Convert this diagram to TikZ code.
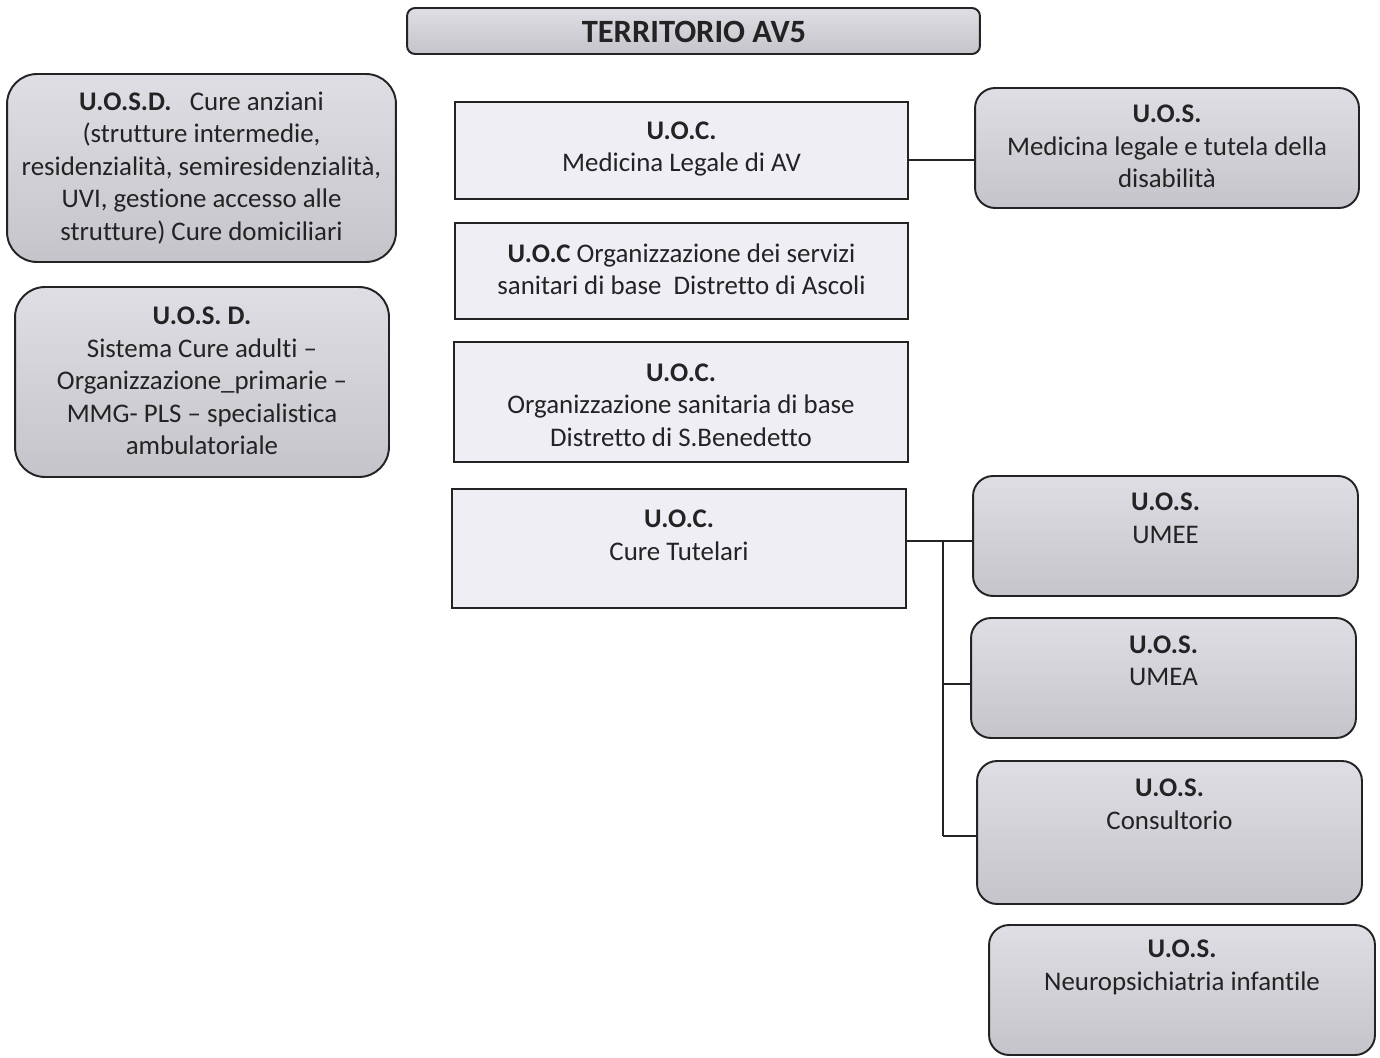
\documentclass[tikz,border=0pt]{standalone}
\usepackage{fontspec}
\setmainfont{Carlito}[Ligatures=NoCommon]
\usetikzlibrary{calc}

\definecolor{inkgray}{RGB}{35,35,35}
\definecolor{uocfill}{RGB}{239,238,245}
\definecolor{uostop}{RGB}{222,222,228}
\definecolor{uosbot}{RGB}{196,196,202}
\tikzset{
    uocbox/.style={draw=inkgray, line width=1.1pt, fill=uocfill, inner sep=0pt},
    uosbox/.style={draw=inkgray, line width=1.1pt, rounded corners=0.4cm, top color=uostop, bottom color=uosbot, inner sep=0pt},
    label text/.style={align=center, text=inkgray, font=\fontsize{15.3}{18.5}\selectfont, inner sep=0pt},
    link/.style={draw=inkgray, line width=1.1pt}
}

\begin{document}
\begin{tikzpicture}[x=0.02cm, y=-0.02cm]
    \useasboundingbox (0,0) rectangle (1380,1058);
    \fill[white] (0,0) rectangle (1380,1058);

    % title
    \node [uosbox, rounded corners=0.16cm, minimum width=11.46cm, minimum height=0.92cm] (terr) at (693.5,31) {};
    \node [label text, font=\fontsize{18.5}{22}\selectfont\bfseries] (terrt) at (694,32) {TERRITORIO AV5};

    % left column
    \node [uosbox, rounded corners=0.6cm, minimum width=7.78cm, minimum height=3.76cm] (anziani) at (201.5,168) {};
    \node [label text] (anzianit) at (201.5,168) {\textbf{U.O.S.D.}\ \ \ Cure anziani\\(strutture intermedie,\\residenzialità, semiresidenzialità,\\UVI, gestione accesso alle\\strutture) Cure domiciliari};
    \node [uosbox, rounded corners=0.6cm, minimum width=7.48cm, minimum height=3.8cm] (adulti) at (202,382) {};
    \node [label text] (adultit) at (202,381) {\textbf{U.O.S. D.}\\Sistema Cure adulti --\\Organizzazione\_primarie --\\MMG- PLS -- specialistica\\ambulatoriale};

    % middle column
    \node [uocbox, minimum width=9.06cm, minimum height=1.94cm] (medleg) at (681.5,150.5) {};
    \node [label text] (medlegt) at (681.5,149) {\textbf{U.O.C.}\\Medicina Legale di AV};
    \node [uocbox, minimum width=9.06cm, minimum height=1.92cm] (ascoli) at (681.5,271) {};
    \node [label text] (ascolit) at (681.5,269.5) {\textbf{U.O.C} Organizzazione dei servizi\\sanitari di base\ \ Distretto di Ascoli};
    \node [uocbox, minimum width=9.08cm, minimum height=2.4cm] (sbened) at (681,402) {};
    \node [label text] (sbenedt) at (681,405) {\textbf{U.O.C.}\\Organizzazione sanitaria di base\\Distretto di S.Benedetto};
    \node [uocbox, minimum width=9.08cm, minimum height=2.38cm] (tutel) at (679,548.5) {};
    \node [label text] (tutelt) at (679,535.5) {\textbf{U.O.C.}\\Cure Tutelari};

    % right column
    \node [uosbox, minimum width=7.68cm, minimum height=2.4cm] (disab) at (1167,148) {};
    \node [label text] (disabt) at (1167,146.5) {\textbf{U.O.S.}\\Medicina legale e tutela della\\disabilità};
    \node [uosbox, minimum width=7.7cm, minimum height=2.4cm] (umee) at (1165.5,536) {};
    \node [label text] (umeet) at (1165.5,518.5) {\textbf{U.O.S.}\\UMEE};
    \node [uosbox, minimum width=7.7cm, minimum height=2.4cm] (umea) at (1163.5,678) {};
    \node [label text] (umeat) at (1163.5,661) {\textbf{U.O.S.}\\UMEA};
    \node [uosbox, minimum width=7.7cm, minimum height=2.86cm] (consul) at (1169.5,832.5) {};
    \node [label text] (consult) at (1169.5,804.5) {\textbf{U.O.S.}\\Consultorio};
    \node [uosbox, minimum width=7.72cm, minimum height=2.6cm] (neuro) at (1182,990) {};
    \node [label text] (neurot) at (1182,967.5) {\textbf{U.O.S.}\\Neuropsichiatria infantile};

    % connectors
    \coordinate (bus) at (943,541);
    \coordinate (busend) at (943,836);
    \draw [link] (medleg.east |- 0,160) -- (disab.west |- 0,160);
    \draw [link] (tutel.east |- bus) -- (umee.west |- bus);
    \draw [link] (bus) -- (busend);
    \draw [link] (bus |- 0,684) -- (umea.west |- 0,684);
    \draw [link] (busend) -- (consul.west |- busend);
\end{tikzpicture}
\end{document}
